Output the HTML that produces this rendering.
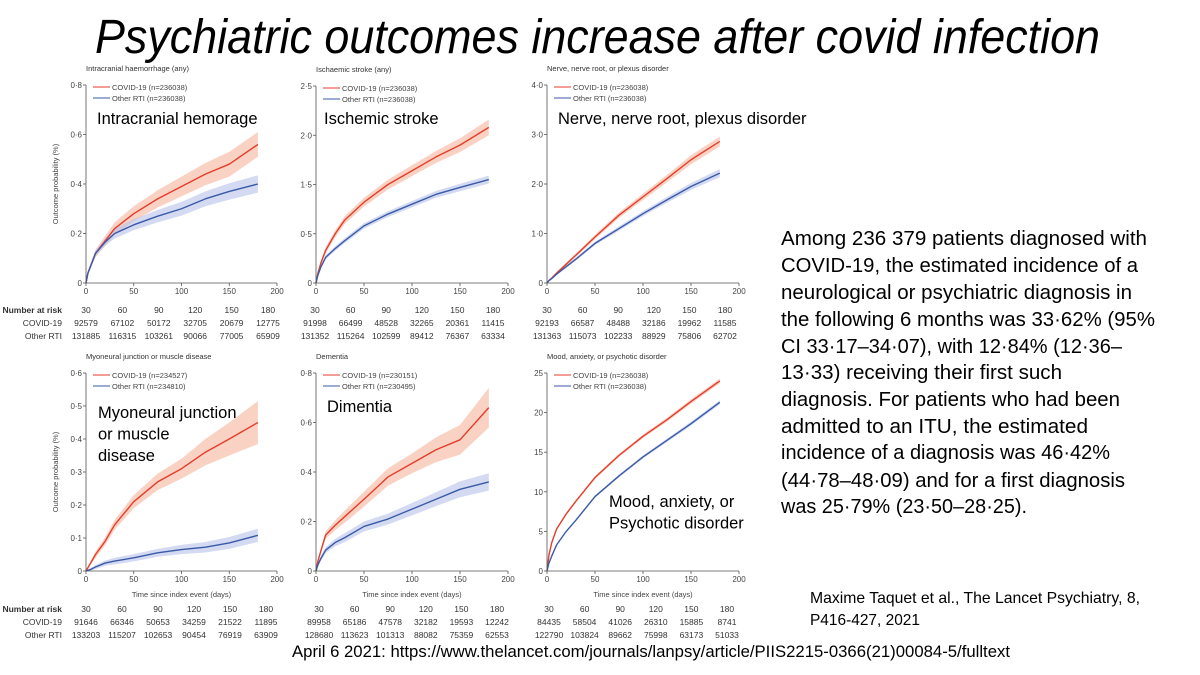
<!DOCTYPE html>
<html><head><meta charset="utf-8"><style>
html,body{margin:0;padding:0;background:#fff;}
svg{display:block;font-family:"Liberation Sans",sans-serif;}
</style></head><body>
<svg id="root" width="1200" height="675" viewBox="0 0 1200 675">
<rect width="1200" height="675" fill="#fff"/>
<text x="95" y="53" font-size="48" font-style="italic" fill="#000" textLength="1005" lengthAdjust="spacingAndGlyphs">Psychiatric outcomes increase after covid infection</text>
<g id="charts"></g>
<g font-size="20" fill="#000">
<text x="781" y="245" textLength="366" lengthAdjust="spacingAndGlyphs">Among 236 379 patients diagnosed with</text>
<text x="781" y="272" textLength="357" lengthAdjust="spacingAndGlyphs">COVID-19, the estimated incidence of a</text>
<text x="781" y="299" textLength="351" lengthAdjust="spacingAndGlyphs">neurological or psychiatric diagnosis in</text>
<text x="781" y="326" textLength="374" lengthAdjust="spacingAndGlyphs">the following 6 months was 33·62% (95%</text>
<text x="781" y="353" textLength="341" lengthAdjust="spacingAndGlyphs">CI 33·17–34·07), with 12·84% (12·36–</text>
<text x="781" y="379" textLength="281" lengthAdjust="spacingAndGlyphs">13·33) receiving their first such</text>
<text x="781" y="406" textLength="339" lengthAdjust="spacingAndGlyphs">diagnosis. For patients who had been</text>
<text x="781" y="433" textLength="307" lengthAdjust="spacingAndGlyphs">admitted to an ITU, the estimated</text>
<text x="781" y="459" textLength="329" lengthAdjust="spacingAndGlyphs">incidence of a diagnosis was 46·42%</text>
<text x="781" y="487" textLength="344" lengthAdjust="spacingAndGlyphs">(44·78–48·09) and for a first diagnosis</text>
<text x="781" y="513" textLength="246" lengthAdjust="spacingAndGlyphs">was 25·79% (23·50–28·25).</text>
</g>
<g font-size="16" fill="#000">
<text x="810" y="603" textLength="330" lengthAdjust="spacingAndGlyphs">Maxime Taquet et al., The Lancet Psychiatry, 8,</text>
<text x="810" y="625" textLength="110" lengthAdjust="spacingAndGlyphs">P416-427, 2021</text>
</g>
<text x="292" y="657" font-size="17" fill="#000" textLength="718" lengthAdjust="spacingAndGlyphs">April 6 2021: https://www.thelancet.com/journals/lanpsy/article/PIIS2215-0366(21)00084-5/fulltext</text>
</svg>
<script>
const days = [0,2,5,10,20,30,50,75,100,125,150,180];
const xTicks = [0,50,100,150,200];
const riskDays = ['30','60','90','120','150','180'];

const p1Covid = [0,0.04,0.07,0.12,0.17,0.22,0.28,0.34,0.39,0.44,0.48,0.56];
const p1Other = [0,0.04,0.07,0.12,0.165,0.2,0.235,0.27,0.3,0.34,0.37,0.40];
const p1CovidCI = [0,0.008,0.01,0.015,0.02,0.025,0.03,0.035,0.04,0.045,0.05,0.05];
const p1OtherCI = [0,0.008,0.01,0.012,0.015,0.02,0.022,0.025,0.028,0.03,0.033,0.035];
const p1Ticks = [0,0.2,0.4,0.6,0.8];
const p1TickLabels = ['0','0·2','0·4','0·6','0·8'];
const p1RiskCovid = ['92579','67102','50172','32705','20679','12775'];
const p1RiskOther = ['131885','116315','103261','90066','77005','65909'];

const p2Covid = [0,0.1,0.2,0.33,0.5,0.64,0.82,1.0,1.14,1.28,1.4,1.58];
const p2Other = [0,0.08,0.16,0.26,0.35,0.43,0.58,0.7,0.8,0.9,0.97,1.05];
const p2CovidCI = [0,0.015,0.02,0.03,0.035,0.04,0.045,0.05,0.055,0.06,0.07,0.08];
const p2OtherCI = [0,0.01,0.015,0.02,0.022,0.025,0.028,0.03,0.032,0.035,0.038,0.04];
const p2Ticks = [0,0.5,1.0,1.5,2.0];
const p2TickLabels = ['0','0·5','1·5','2·0','2·5'];
const p2RiskCovid = ['91998','66499','48528','32265','20361','11415'];
const p2RiskOther = ['131352','115264','102599','89412','76367','63334'];

const p3Covid = [0,0.05,0.1,0.2,0.38,0.56,0.93,1.37,1.74,2.11,2.49,2.86];
const p3Other = [0,0.05,0.09,0.18,0.33,0.48,0.8,1.1,1.4,1.68,1.95,2.22];
const p3CovidCI = [0,0.015,0.02,0.025,0.03,0.035,0.045,0.055,0.065,0.075,0.09,0.1];
const p3OtherCI = [0,0.015,0.02,0.02,0.025,0.03,0.035,0.045,0.05,0.06,0.07,0.08];
const p3Ticks = [0,1,2,3,4];
const p3TickLabels = ['0','1·0','2·0','3·0','4·0'];
const p3RiskCovid = ['92193','66587','48488','32186','19962','11585'];
const p3RiskOther = ['131363','115073','102233','88929','75806','62702'];

const p4Covid = [0,0.01,0.025,0.05,0.09,0.14,0.21,0.27,0.31,0.36,0.40,0.45];
const p4Other = [0,0.002,0.005,0.012,0.024,0.03,0.04,0.055,0.065,0.072,0.085,0.108];
const p4CovidCI = [0,0.004,0.005,0.01,0.012,0.015,0.02,0.025,0.03,0.04,0.05,0.065];
const p4OtherCI = [0,0.003,0.004,0.006,0.008,0.01,0.011,0.012,0.014,0.016,0.018,0.02];
const p4Ticks = [0,0.1,0.2,0.3,0.4,0.5,0.6];
const p4TickLabels = ['0','0·1','0·2','0·3','0·4','0·5','0·6'];
const p4RiskCovid = ['91646','66346','50653','34259','21522','11895'];
const p4RiskOther = ['133203','115207','102653','90454','76919','63909'];

const p5Covid = [0,0.04,0.08,0.145,0.185,0.22,0.29,0.38,0.435,0.49,0.53,0.66];
const p5Other = [0,0.025,0.05,0.084,0.115,0.135,0.18,0.21,0.25,0.29,0.33,0.36];
const p5CovidCI = [0,0.008,0.01,0.015,0.02,0.025,0.03,0.035,0.04,0.05,0.06,0.08];
const p5OtherCI = [0,0.008,0.01,0.012,0.015,0.018,0.02,0.022,0.025,0.028,0.032,0.035];
const p5Ticks = [0,0.2,0.4,0.6,0.8];
const p5TickLabels = ['0','0·2','0·4','0·6','0·8'];
const p5RiskCovid = ['89958','65186','47578','32182','19593','12242'];
const p5RiskOther = ['128680','113623','101313','88082','75359','62553'];

const p6Covid = [0,2.0,3.6,5.3,7.2,8.8,11.8,14.6,17.0,19.1,21.4,24.0];
const p6Other = [0,1.0,1.9,3.3,5.0,6.4,9.4,12.0,14.4,16.5,18.6,21.3];
const p6CovidCI = [0,0.08,0.1,0.12,0.15,0.15,0.18,0.2,0.22,0.25,0.28,0.3];
const p6OtherCI = [0,0.06,0.08,0.1,0.12,0.12,0.15,0.17,0.2,0.22,0.24,0.26];
const p6Ticks = [0,5,10,15,20,25];
const p6TickLabels = ['0','5','10','15','20','25'];
const p6RiskCovid = ['84435','58504','41026','26310','15885','8741'];
const p6RiskOther = ['122790','103824','89662','75998','63173','51033'];

const NS = 'http://www.w3.org/2000/svg';
const charts = document.getElementById('charts');
function mk(tag, attrs, parent, txt){
  const e = document.createElementNS(NS, tag);
  for (const k in attrs) e.setAttribute(k, attrs[k]);
  if (txt !== undefined) e.textContent = txt;
  (parent || charts).appendChild(e);
  return e;
}

const panels = [
 {id:'intracranial',title:'Intracranial haemorrhage (any)',x0:86,x1:277,yTop:85,yBot:283,ymax:0.8,ticks:p1Ticks,labels:p1TickLabels,covid:p1Covid,other:p1Other,cci:p1CovidCI,oci:p1OtherCI,nC:'236038',nO:'236038',yTitle:true,xTitle:false,rc:p1RiskCovid,ro:p1RiskOther,riskX:86,riskStep:36.4,riskY:313,ann:['Intracranial hemorage'],annX:97,annY:124,rowLabels:true},
 {id:'ischaemic',title:'Ischaemic stroke (any)',x0:316,x1:508,yTop:86,yBot:283,ymax:2.0,ticks:p2Ticks,labels:p2TickLabels,covid:p2Covid,other:p2Other,cci:p2CovidCI,oci:p2OtherCI,nC:'236038',nO:'236038',yTitle:false,xTitle:false,rc:p2RiskCovid,ro:p2RiskOther,riskX:315,riskStep:35.6,riskY:313,ann:['Ischemic stroke'],annX:324,annY:124},
 {id:'nerve',title:'Nerve, nerve root, or plexus disorder',x0:547,x1:739,yTop:85,yBot:283,ymax:4,ticks:p3Ticks,labels:p3TickLabels,covid:p3Covid,other:p3Other,cci:p3CovidCI,oci:p3OtherCI,nC:'236038',nO:'236038',yTitle:false,xTitle:false,rc:p3RiskCovid,ro:p3RiskOther,riskX:547,riskStep:35.6,riskY:313,ann:['Nerve, nerve root, plexus disorder'],annX:558,annY:124},
 {id:'myoneural',title:'Myoneural junction or muscle disease',x0:86,x1:277,yTop:373,yBot:571,ymax:0.6,ticks:p4Ticks,labels:p4TickLabels,covid:p4Covid,other:p4Other,cci:p4CovidCI,oci:p4OtherCI,nC:'234527',nO:'234810',yTitle:true,xTitle:true,rc:p4RiskCovid,ro:p4RiskOther,riskX:86,riskStep:36,riskY:612,ann:['Myoneural junction','or muscle','disease'],annX:98,annY:418,rowLabels:true},
 {id:'dementia',title:'Dementia',x0:316,x1:508,yTop:373,yBot:571,ymax:0.8,ticks:p5Ticks,labels:p5TickLabels,covid:p5Covid,other:p5Other,cci:p5CovidCI,oci:p5OtherCI,nC:'230151',nO:'230495',yTitle:false,xTitle:true,rc:p5RiskCovid,ro:p5RiskOther,riskX:319,riskStep:35.6,riskY:612,ann:['Dimentia'],annX:327,annY:412},
 {id:'mood',title:'Mood, anxiety, or psychotic disorder',x0:547,x1:739,yTop:373,yBot:571,ymax:25,ticks:p6Ticks,labels:p6TickLabels,covid:p6Covid,other:p6Other,cci:p6CovidCI,oci:p6OtherCI,nC:'236038',nO:'236038',yTitle:false,xTitle:true,rc:p6RiskCovid,ro:p6RiskOther,riskX:549,riskStep:35.6,riskY:612,ann:['Mood, anxiety, or','Psychotic disorder'],annX:609,annY:507}
];

panels.forEach(p => {
  const g = mk('g', {});
  
  
  const sx = d => p.x0 + (d/200)*(p.x1-p.x0);
  const sy = v => p.yBot - (v/p.ymax)*(p.yBot-p.yTop);
  const t = mk('text', {x:p.x0, y:p.yTop-14, 'font-size':7.5, fill:'#333'}, g, p.title);
  
  
  const series = [[p.covid,p.cci,'#f5b49b','#e53d2c','covid'],[p.other,p.oci,'#b6c2ea','#3a5aa8','other']];
  series.forEach(s => {
    const [vals, ci, bandCol, lineCol, nm] = s;
    let up = days.map((d,i)=>sx(d)+','+sy(vals[i]+ci[i]));
    let lo = days.map((d,i)=>sx(d)+','+sy(Math.max(0,vals[i]-ci[i]))).reverse();
    const b = mk('polygon', {points: up.concat(lo).join(' '), fill:bandCol, 'fill-opacity':0.6}, g);
    
    
  });
  series.forEach(s => {
    const [vals, ci, bandCol, lineCol, nm] = s;
    const l = mk('polyline', {points: days.map((d,i)=>sx(d)+','+sy(vals[i])).join(' '), fill:'none', stroke:lineCol, 'stroke-width':1.4, 'stroke-linejoin':'round'}, g);
    
    
  });
  const ax = mk('path', {d:`M${p.x0},${p.yTop} V${p.yBot} H${p.x1}`, stroke:'#555', 'stroke-width':0.8, fill:'none'}, g);
  
  
  p.ticks.forEach((v,i) => {
    mk('line', {x1:p.x0-3, x2:p.x0, y1:sy(v), y2:sy(v), stroke:'#555','stroke-width':0.8}, g);
    const tl = mk('text', {x:p.x0-4, y:sy(v)+3, 'font-size':8, fill:'#444', 'text-anchor':'end'}, g, p.labels[i]);
    
    
  });
  xTicks.forEach(d => {
    mk('line', {x1:sx(d), x2:sx(d), y1:p.yBot, y2:p.yBot+3, stroke:'#555','stroke-width':0.8}, g);
    const tl = mk('text', {x:sx(d), y:p.yBot+11, 'font-size':8, fill:'#444', 'text-anchor':'middle'}, g, String(d));
    
    
  });
  const lg = mk('g', {}, g);
  
  
  mk('line', {x1:p.x0+7, x2:p.x0+24, y1:p.yTop+2, y2:p.yTop+2, stroke:'#e53d2c','stroke-width':1}, lg);
  mk('text', {x:p.x0+26, y:p.yTop+5, 'font-size':7.5, fill:'#444'}, lg, 'COVID-19 (n=' + p.nC + ')');
  mk('line', {x1:p.x0+7, x2:p.x0+24, y1:p.yTop+13, y2:p.yTop+13, stroke:'#3a5aa8','stroke-width':1}, lg);
  mk('text', {x:p.x0+26, y:p.yTop+16, 'font-size':7.5, fill:'#444'}, lg, 'Other RTI (n=' + p.nO + ')');
  if (p.yTitle) {
    const cy = (p.yTop+p.yBot)/2;
    const yt = mk('text', {x:58, y:cy, 'font-size':7.5, fill:'#444', 'text-anchor':'middle', transform:`rotate(-90 58 ${cy})`}, g, 'Outcome probability (%)');
    
    
  }
  if (p.xTitle) {
    const xt = mk('text', {x:(p.x0+p.x1)/2, y:p.yBot+26, 'font-size':7.5, fill:'#444', 'text-anchor':'middle'}, g, 'Time since index event (days)');
    
    
  }
  const an = mk('text', {x:p.annX, y:p.annY, 'font-size':16.5, fill:'#000'}, g);
  
  
  p.ann.forEach((line,i) => mk('tspan', {x:p.annX, y:p.annY + i*21.5}, an, line));
  const rt = mk('g', {'font-size':8.5, fill:'#333', 'text-anchor':'middle'}, g);
  
  
  if (p.rowLabels) {
    mk('text', {x:62, y:p.riskY, 'text-anchor':'end', 'font-weight':'bold'}, rt, 'Number at risk');
    mk('text', {x:62, y:p.riskY+13, 'text-anchor':'end'}, rt, 'COVID-19');
    mk('text', {x:62, y:p.riskY+26, 'text-anchor':'end'}, rt, 'Other RTI');
  }
  riskDays.forEach((d,i) => {
    const x = p.riskX + i*p.riskStep;
    mk('text', {x:x, y:p.riskY}, rt, d);
    mk('text', {x:x, y:p.riskY+13}, rt, p.rc[i]);
    mk('text', {x:x, y:p.riskY+26}, rt, p.ro[i]);
  });
});
</script>
</body></html>
